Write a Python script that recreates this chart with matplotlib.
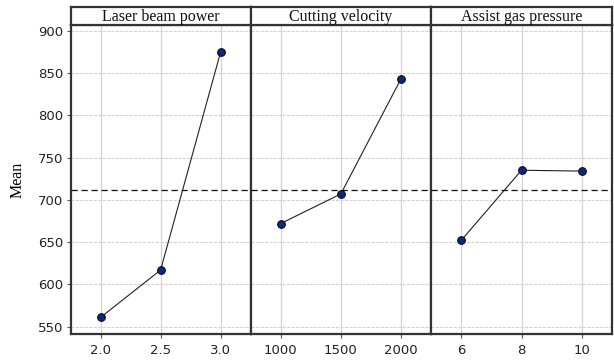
import matplotlib
matplotlib.use("Agg")
import matplotlib.pyplot as plt

# Data
factors = ["Laser beam power", "Cutting velocity", "Assist gas pressure"]
laser_levels = [2.0, 2.5, 3.0]
laser_means = [561, 617, 875]
velocity_levels = [1000, 1500, 2000]
velocity_means = [672, 707, 843]
gas_levels = [6, 8, 10]
gas_means = [652, 735, 734]
overall_mean = 711.5
x_limits = [(1.75, 3.25), (750, 2250), (5, 11)]
x_ticklabels = [["2.0", "2.5", "3.0"], ["1000", "1500", "2000"], ["6", "8", "10"]]
y_ticks = [550, 600, 650, 700, 750, 800, 850, 900]

levels = [laser_levels, velocity_levels, gas_levels]
means = [laser_means, velocity_means, gas_means]

W, H = 614, 360
fig = plt.figure(figsize=(W / 100, H / 100), dpi=100)

lefts = [70.5, 250.7, 431.0]
right_edge = 612.0
top_px, bottom_px, head_top = 25.0, 334.0, 7.0

serif = ["Liberation Serif", "DejaVu Serif"]
sans = ["DejaVu Sans"]

for i in range(3):
    l = lefts[i]
    r = lefts[i + 1] if i < 2 else right_edge
    ax = fig.add_axes([l / W, (H - bottom_px) / H, (r - l) / W, (bottom_px - top_px) / H])
    ax.set_xlim(*x_limits[i])
    ax.set_ylim(541.4, 906.7)
    ax.set_xticks(levels[i])
    ax.set_xticklabels(x_ticklabels[i], fontfamily=sans, fontsize=9.5, color="#222222")
    ax.set_yticks(y_ticks)
    ax.xaxis.grid(True, color="#d2d2d2", lw=0.9, ls="-")
    ax.yaxis.grid(True, color="#d4d4d4", lw=0.8, ls=(0, (3, 1)))
    ax.set_axisbelow(True)
    ax.axhline(overall_mean, color="#111111", lw=0.9, ls=(0, (5, 3)), zorder=3)
    ax.plot(levels[i], means[i], color="#222222", lw=0.8, zorder=4,
            marker="o", markersize=5.5, markerfacecolor="#0a2a78",
            markeredgecolor="#0a0a30", markeredgewidth=0.8)
    for s in ax.spines.values():
        s.set_linewidth(1.6)
        s.set_color("#333333")
    ax.tick_params(axis="x", length=3, width=0.8, color="#555555", pad=4)
    if i == 0:
        ax.set_yticklabels([str(v) for v in y_ticks], fontfamily=sans, fontsize=9.5, color="#222222")
        ax.tick_params(axis="y", length=3, width=0.8, color="#555555", pad=2)
        ax.set_ylabel("Mean", fontfamily=serif, fontsize=11.5, labelpad=9)
    else:
        ax.tick_params(axis="y", length=0, labelleft=False)

    hax = fig.add_axes([l / W, (H - top_px) / H, (r - l) / W, (top_px - head_top) / H])
    hax.set_xticks([]); hax.set_yticks([])
    for s in hax.spines.values():
        s.set_linewidth(1.6)
        s.set_color("#333333")
    hax.text(0.5, 0.42, factors[i], ha="center", va="center", fontfamily=serif,
             fontsize=11.5, color="#111111", transform=hax.transAxes)

fig.savefig("out.png", dpi=100)
